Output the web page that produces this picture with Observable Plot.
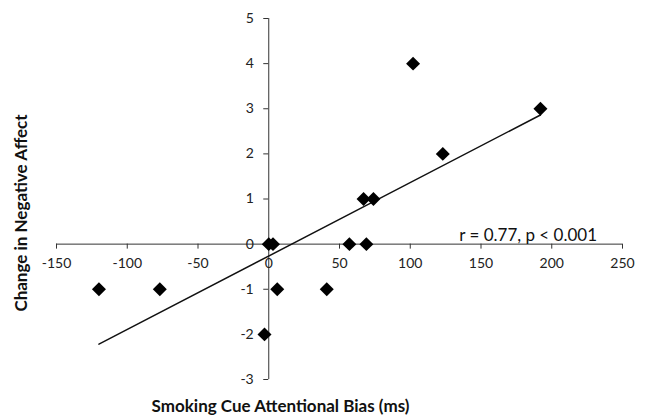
<!DOCTYPE html>
<html><head><meta charset="utf-8">
<script src="https://cdn.jsdelivr.net/npm/d3@7"></script>
<script src="https://cdn.jsdelivr.net/npm/@observablehq/plot@0.6"></script>
<style>body{margin:0;background:#fff}</style>
</head><body><div id="chart"></div>
<script>
const biasMs    = [-120, -77, 0, 3, -3, 6, 41, 57, 69, 67, 74, 102, 123, 192];
const negAffect = [-1, -1, 0, 0, -2, -1, -1, 0, 0, 1, 1, 4, 2, 3];
const xTicks = [-150, -100, -50, 0, 50, 100, 150, 200, 250];
const yTicks = [-3, -2, -1, 0, 1, 2, 3, 4, 5];
const xTitle = "Smoking Cue Attentional Bias (ms)";
const yTitle = "Change in Negative Affect";
const statLabel = "r = 0.77, p < 0.001";
const statAt = 232;

const W = 647, H = 416, mL = 56, mR = 25, mT = 18, mB = 37;
const data = biasMs.map((x, i) => ({x, y: negAffect[i]}));
const yS = Plot.scale({y: {domain: [-3, 5], range: [H - mB, mT]}});
const xS = Plot.scale({x: {domain: [-150, 250], range: [mL, W - mR]}});
const y0 = yS.apply(0), x0 = xS.apply(0);
const axisColor = "#333";
const fmt = d => String(d);

const chart = Plot.plot({
  width: W, height: H,
  marginLeft: mL, marginRight: mR, marginTop: mT, marginBottom: mB,
  style: {fontFamily: "Lato", fontSize: "14px", color: "#222", background: "#fff"},
  x: {domain: [-150, 250], axis: null},
  y: {domain: [-3, 5], axis: null},
  marks: [
    Plot.ruleY([0], {stroke: axisColor, strokeWidth: 1}),
    Plot.ruleX([0], {stroke: axisColor, strokeWidth: 1}),
    Plot.axisX(xTicks, {anchor: "bottom", dy: y0 - (H - mB), tickSize: 5, tickPadding: 9, tickFormat: fmt, stroke: axisColor, fill: "#222", label: null}),
    Plot.axisY(yTicks, {anchor: "left", dx: x0 - mL, tickSize: 5, tickPadding: 10, tickFormat: fmt, stroke: axisColor, fill: "#222", label: null}),
    Plot.linearRegressionY(data, {x: "x", y: "y", ci: 0, stroke: "#111", strokeWidth: 1.5}),
    Plot.dot(data, {x: "x", y: "y", symbol: "diamond2", r: 6.3, fill: "#000", stroke: "none"}),
    Plot.text([statLabel], {x: statAt, y: 0, textAnchor: "end", lineAnchor: "bottom", dy: -3, fontSize: 17, fill: "#111"}),
    Plot.text([xTitle], {frameAnchor: "bottom", textAnchor: "middle", dx: -59, dy: 27, lineAnchor: "middle", fontWeight: "bold", fontSize: 17, fill: "#111"}),
    Plot.text([yTitle], {frameAnchor: "left", textAnchor: "middle", dx: -35, dy: 14, rotate: -90, fontWeight: "bold", fontSize: 17, fill: "#111"})
  ]
});
document.getElementById("chart").append(chart);
</script>
</body></html>
